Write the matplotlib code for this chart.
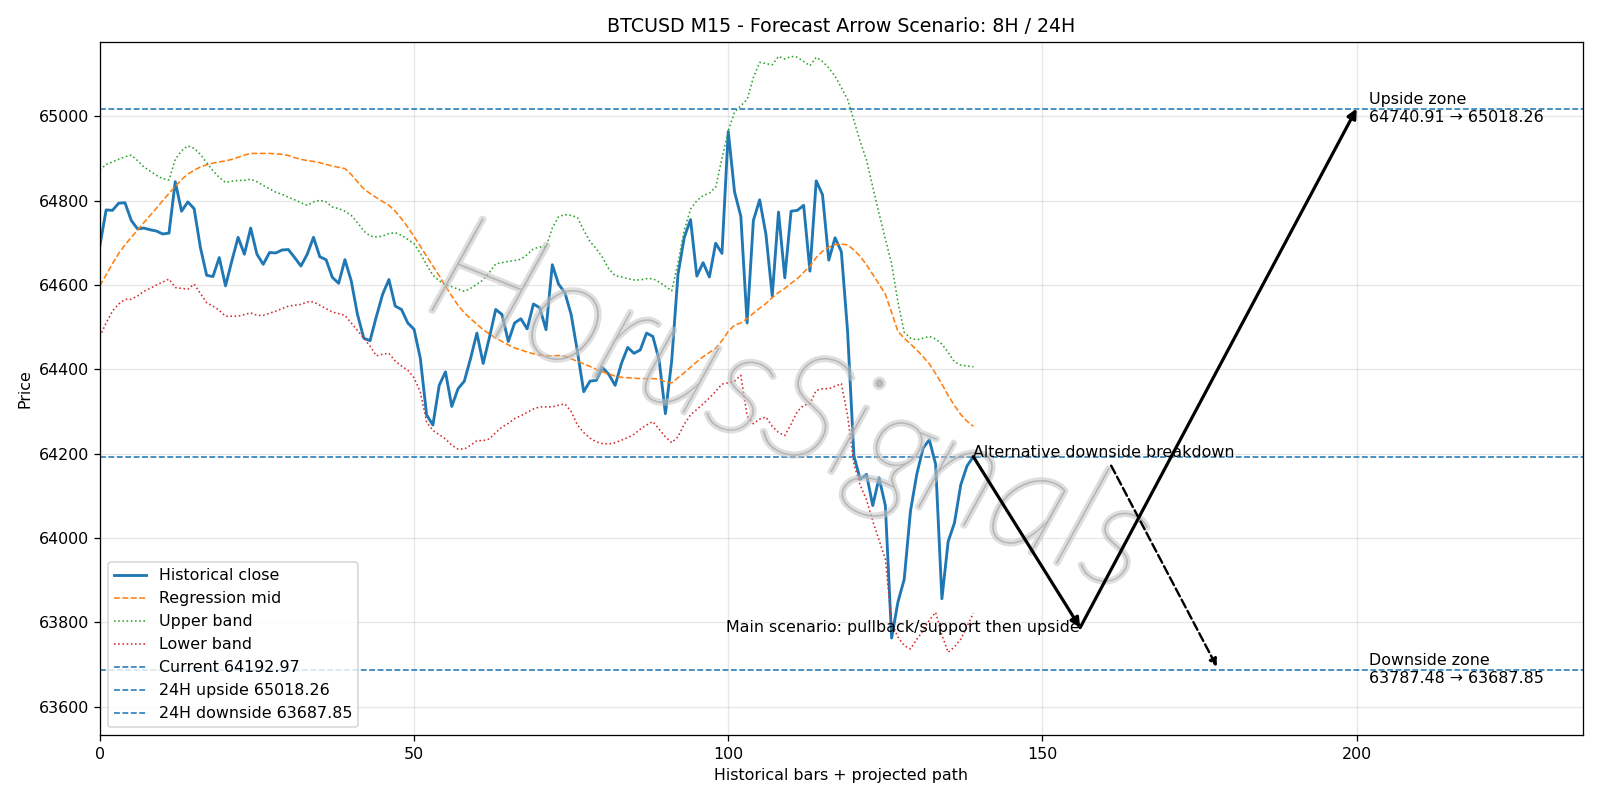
import numpy as np
import matplotlib.pyplot as plt
import matplotlib.patheffects as pe

# historical M15 closes and regression channel
close = [64693, 64778, 64777, 64794, 64795, 64753, 64733, 64735, 64731, 64728,
         64721, 64723, 64845, 64775, 64797, 64781, 64689, 64623, 64620, 64665,
         64598, 64657, 64713, 64673, 64735, 64673, 64649, 64677, 64676, 64683,
         64684, 64665, 64645, 64673, 64713, 64667, 64660, 64618, 64604, 64660,
         64610, 64530, 64474, 64468, 64525, 64578, 64613, 64550, 64542, 64510,
         64495, 64426, 64292, 64268, 64362, 64394, 64312, 64354, 64372, 64426,
         64486, 64414, 64476, 64542, 64530, 64466, 64510, 64520, 64496, 64555,
         64546, 64494, 64648, 64602, 64582, 64530, 64442, 64347, 64372, 64374,
         64404, 64388, 64362, 64414, 64452, 64438, 64446, 64486, 64478, 64422,
         64295, 64420, 64625, 64713, 64755, 64621, 64653, 64619, 64699, 64675,
         64964, 64821, 64763, 64510, 64753, 64802, 64720, 64574, 64773, 64617,
         64775, 64777, 64789, 64633, 64847, 64814, 64659, 64712, 64679, 64488,
         64195, 64139, 64151, 64077, 64143, 64077, 63763, 63848, 63902, 64064,
         64151, 64213, 64233, 64175, 63856, 63992, 64036, 64126, 64171, 64192.97]

mid = [64598, 64624, 64650, 64675, 64695, 64713, 64730, 64748, 64765, 64782,
       64800, 64817, 64834, 64850, 64863, 64872, 64880, 64885, 64889, 64892,
       64894, 64898, 64903, 64908, 64912, 64912, 64912, 64912, 64911, 64910,
       64907, 64902, 64898, 64895, 64893, 64890, 64886, 64882, 64879, 64876,
       64862, 64845, 64828, 64817, 64807, 64798, 64789, 64775, 64757, 64737,
       64715, 64692, 64668, 64645, 64622, 64597, 64574, 64552, 64534, 64520,
       64507, 64494, 64484, 64474, 64466, 64458, 64451, 64446, 64441, 64437,
       64434, 64432, 64432, 64433, 64431, 64425, 64419, 64413, 64407, 64400,
       64394, 64389, 64384, 64381, 64380, 64379, 64378, 64378, 64378, 64377,
       64370, 64368, 64380, 64392, 64405, 64418, 64430, 64440, 64450, 64468,
       64490, 64505, 64510, 64520, 64533, 64545, 64556, 64570, 64582, 64592,
       64604, 64615, 64630, 64645, 64665, 64680, 64690, 64696, 64697, 64695,
       64683, 64668, 64648, 64625, 64602, 64578, 64535, 64490, 64474, 64460,
       64446, 64430, 64413, 64390, 64365, 64338, 64314, 64293, 64277, 64265]

upper = [64873, 64886, 64892, 64898, 64904, 64908, 64895, 64880, 64870, 64860,
         64852, 64849, 64898, 64918, 64930, 64924, 64910, 64890, 64871, 64855,
         64843, 64846, 64848, 64848, 64851, 64845, 64836, 64828, 64820, 64815,
         64808, 64802, 64795, 64789, 64797, 64801, 64797, 64785, 64781, 64775,
         64765, 64748, 64728, 64716, 64714, 64716, 64722, 64724, 64718, 64708,
         64698, 64675, 64648, 64623, 64610, 64600, 64596, 64590, 64585, 64592,
         64602, 64612, 64630, 64650, 64653, 64656, 64658, 64661, 64672, 64686,
         64690, 64690, 64735, 64762, 64767, 64765, 64760, 64730, 64703, 64686,
         64665, 64638, 64622, 64619, 64615, 64612, 64612, 64615, 64615, 64607,
         64597, 64586, 64652, 64730, 64780, 64800, 64812, 64818, 64832, 64900,
         64965, 65010, 65025, 65040, 65092, 65128, 65125, 65122, 65142, 65136,
         65142, 65140, 65130, 65120, 65140, 65130, 65115, 65095, 65068, 65040,
         64990, 64940, 64896, 64833, 64769, 64710, 64650, 64560, 64488, 64474,
         64470, 64474, 64478, 64472, 64460, 64440, 64418, 64410, 64408, 64406]

lower = [64478, 64510, 64538, 64555, 64566, 64566, 64574, 64585, 64592, 64600,
         64607, 64614, 64594, 64592, 64590, 64602, 64580, 64558, 64550, 64540,
         64526, 64526, 64526, 64530, 64534, 64528, 64528, 64533, 64538, 64544,
         64550, 64552, 64554, 64560, 64560, 64552, 64544, 64536, 64532, 64528,
         64510, 64492, 64474, 64455, 64432, 64436, 64438, 64420, 64408, 64398,
         64380, 64346, 64275, 64255, 64245, 64235, 64220, 64211, 64211, 64220,
         64231, 64231, 64235, 64250, 64263, 64272, 64283, 64290, 64298, 64306,
         64311, 64311, 64311, 64315, 64318, 64300, 64268, 64250, 64237, 64228,
         64224, 64223, 64226, 64232, 64238, 64246, 64258, 64268, 64276, 64258,
         64240, 64226, 64240, 64270, 64292, 64305, 64318, 64332, 64348, 64365,
         64368, 64372, 64386, 64290, 64271, 64282, 64287, 64265, 64250, 64243,
         64270, 64300, 64315, 64318, 64350, 64354, 64354, 64360, 64366, 64290,
         64175, 64125, 64091, 64040, 63995, 63950, 63800, 63765, 63745, 63737,
         63760, 63780, 63805, 63824, 63770, 63729, 63742, 63760, 63790, 63822]

CURRENT = 64192.97
UP_24H = 65018.26
DOWN_24H = 63687.85
UP_8H = 64740.91
DOWN_8H = 63787.48

# projected scenario path (bar index, price)
main_x = [139, 156, 200]
main_y = [CURRENT, DOWN_8H, UP_24H]
alt_x = [139, 178]
alt_y = [CURRENT, DOWN_24H]

x = np.arange(len(close))

fig, ax = plt.subplots(figsize=(14, 7), dpi=800 / 7)

ax.plot(x, close, color='C0', lw=1.8, label='Historical close')
ax.plot(x, mid, color='C1', ls='--', lw=1, label='Regression mid')
ax.plot(x, upper, color='C2', ls=':', lw=1, label='Upper band')
ax.plot(x, lower, color='C3', ls=':', lw=1, label='Lower band')

ax.axhline(CURRENT, color='C0', ls='--', lw=1, label=f'Current {CURRENT:.2f}')
ax.axhline(UP_24H, color='C0', ls='--', lw=1, label=f'24H upside {UP_24H:.2f}')
ax.axhline(DOWN_24H, color='C0', ls='--', lw=1, label=f'24H downside {DOWN_24H:.2f}')

# watermark: thin lettering thickened with a soft grey stroke
ax.text(0.465, 0.465, 'HorusSignals', transform=ax.transAxes, fontsize=94,
        family=['Lato', 'DejaVu Sans'], fontweight='light', style='italic',
        color='#a0a0a0', alpha=0.4, rotation=-22, ha='center', va='center',
        path_effects=[pe.Stroke(linewidth=3.5, foreground='#c4c4c4', alpha=0.55),
                      pe.Normal()])

# main scenario arrows
for i in range(len(main_x) - 1):
    ax.annotate('', xy=(main_x[i + 1], main_y[i + 1]), xytext=(main_x[i], main_y[i]),
                arrowprops=dict(arrowstyle='-|>', color='black', lw=2,
                                shrinkA=0, shrinkB=0, mutation_scale=12))
ax.text(main_x[1], main_y[1], 'Main scenario: pullback/support then upside',
        ha='right', va='center', fontsize=10)

# alternative scenario
ax.annotate('Alternative downside breakdown', xy=(alt_x[1], alt_y[1]),
            xytext=(alt_x[0], alt_y[0]), fontsize=10,
            arrowprops=dict(arrowstyle='-|>', color='black', lw=1.5, ls='--'))

ax.text(202, UP_24H, f'Upside zone\n{UP_8H:.2f} → {UP_24H:.2f}', va='center', fontsize=10)
ax.text(202, DOWN_24H, f'Downside zone\n{DOWN_8H:.2f} → {DOWN_24H:.2f}', va='center', fontsize=10)

ax.set_xlim(0, 236)
ax.set_ylim(63532, 65177)
ax.grid(True, alpha=0.3)
ax.set_title('BTCUSD M15 - Forecast Arrow Scenario: 8H / 24H')
ax.set_xlabel('Historical bars + projected path')
ax.set_ylabel('Price')
ax.legend(loc='lower left')

plt.tight_layout()
plt.savefig('out.png')
